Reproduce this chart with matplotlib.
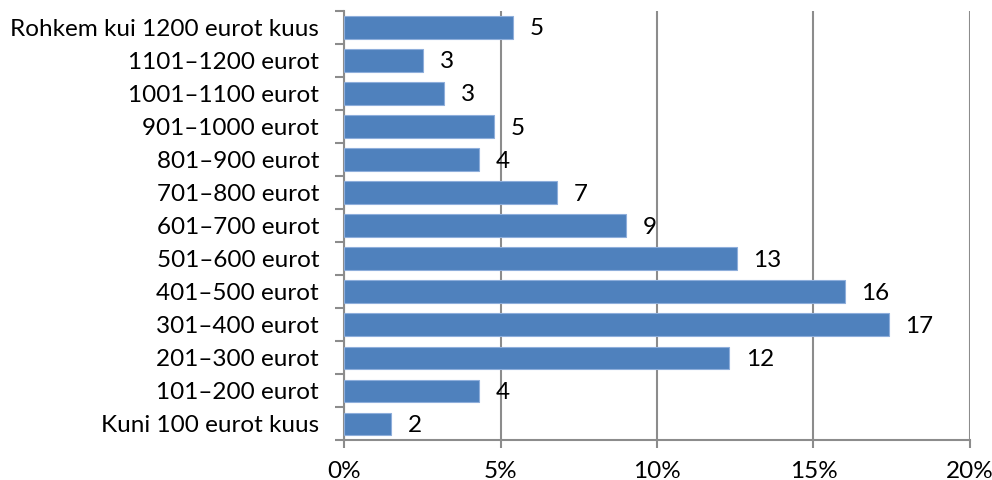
import math
import matplotlib
matplotlib.use("Agg")
import matplotlib.pyplot as plt
from matplotlib.ticker import FuncFormatter

# Sissetulekuvahemikud (alt üles) ja osakaalud protsentides
kategooriad = [
    "Kuni 100 eurot kuus",
    "101–200 eurot",
    "201–300 eurot",
    "301–400 eurot",
    "401–500 eurot",
    "501–600 eurot",
    "601–700 eurot",
    "701–800 eurot",
    "801–900 eurot",
    "901–1000 eurot",
    "1001–1100 eurot",
    "1101–1200 eurot",
    "Rohkem kui 1200 eurot kuus",
]
osakaal = [1.5, 4.3, 12.3, 17.4, 16.0, 12.55, 9.0, 6.8, 4.3, 4.8, 3.2, 2.52, 5.4]
x_ticks = [0, 5, 10, 15, 20]

SININE = "#4f81bd"
HALL = "#8c8c8c"
FS = 17.5

plt.rcParams["font.family"] = ["Lato", "DejaVu Sans"]

fig = plt.figure(figsize=(9.92, 4.8), dpi=100)
ax = fig.add_axes([0.3468, 0.0823, 0.6310, 0.8948])

y = range(len(kategooriad))
ax.barh(y, osakaal, height=0.69, color=SININE, edgecolor="#8eaedb",
        linewidth=0.8, zorder=3)

# väärtuste sildid ümardatult täisarvuni
for yi, v in zip(y, osakaal):
    ax.annotate(f"{math.floor(v + 0.5)}", xy=(v, yi), xytext=(12, -1),
                textcoords="offset points", va="center", ha="left",
                fontsize=FS, color="black")

ax.set_xlim(0, 20)
ax.set_ylim(-0.5, len(kategooriad) - 0.5)
ax.set_xticks(x_ticks)
ax.xaxis.set_major_formatter(FuncFormatter(lambda v, _: f"{v:.0f}%"))

# kategooriate nimed keskel, kriipsud vahepiiridel
ax.set_yticks(list(y))
ax.set_yticklabels(kategooriad)
ax.set_yticks([i - 0.5 for i in range(len(kategooriad) + 1)], minor=True)
ax.tick_params(axis="y", which="major", length=0, pad=18, labelsize=FS)
ax.tick_params(axis="y", which="minor", length=6.5, width=1.5, color=HALL)
ax.tick_params(axis="x", length=5.5, width=1.5, color=HALL, pad=9,
               labelsize=FS)

ax.grid(axis="x", color=HALL, linewidth=1.5, zorder=0)
for s in ["top", "right"]:
    ax.spines[s].set_visible(False)
for s in ["left", "bottom"]:
    ax.spines[s].set_color(HALL)
    ax.spines[s].set_linewidth(1.5)

fig.savefig("out.png", dpi=100)
